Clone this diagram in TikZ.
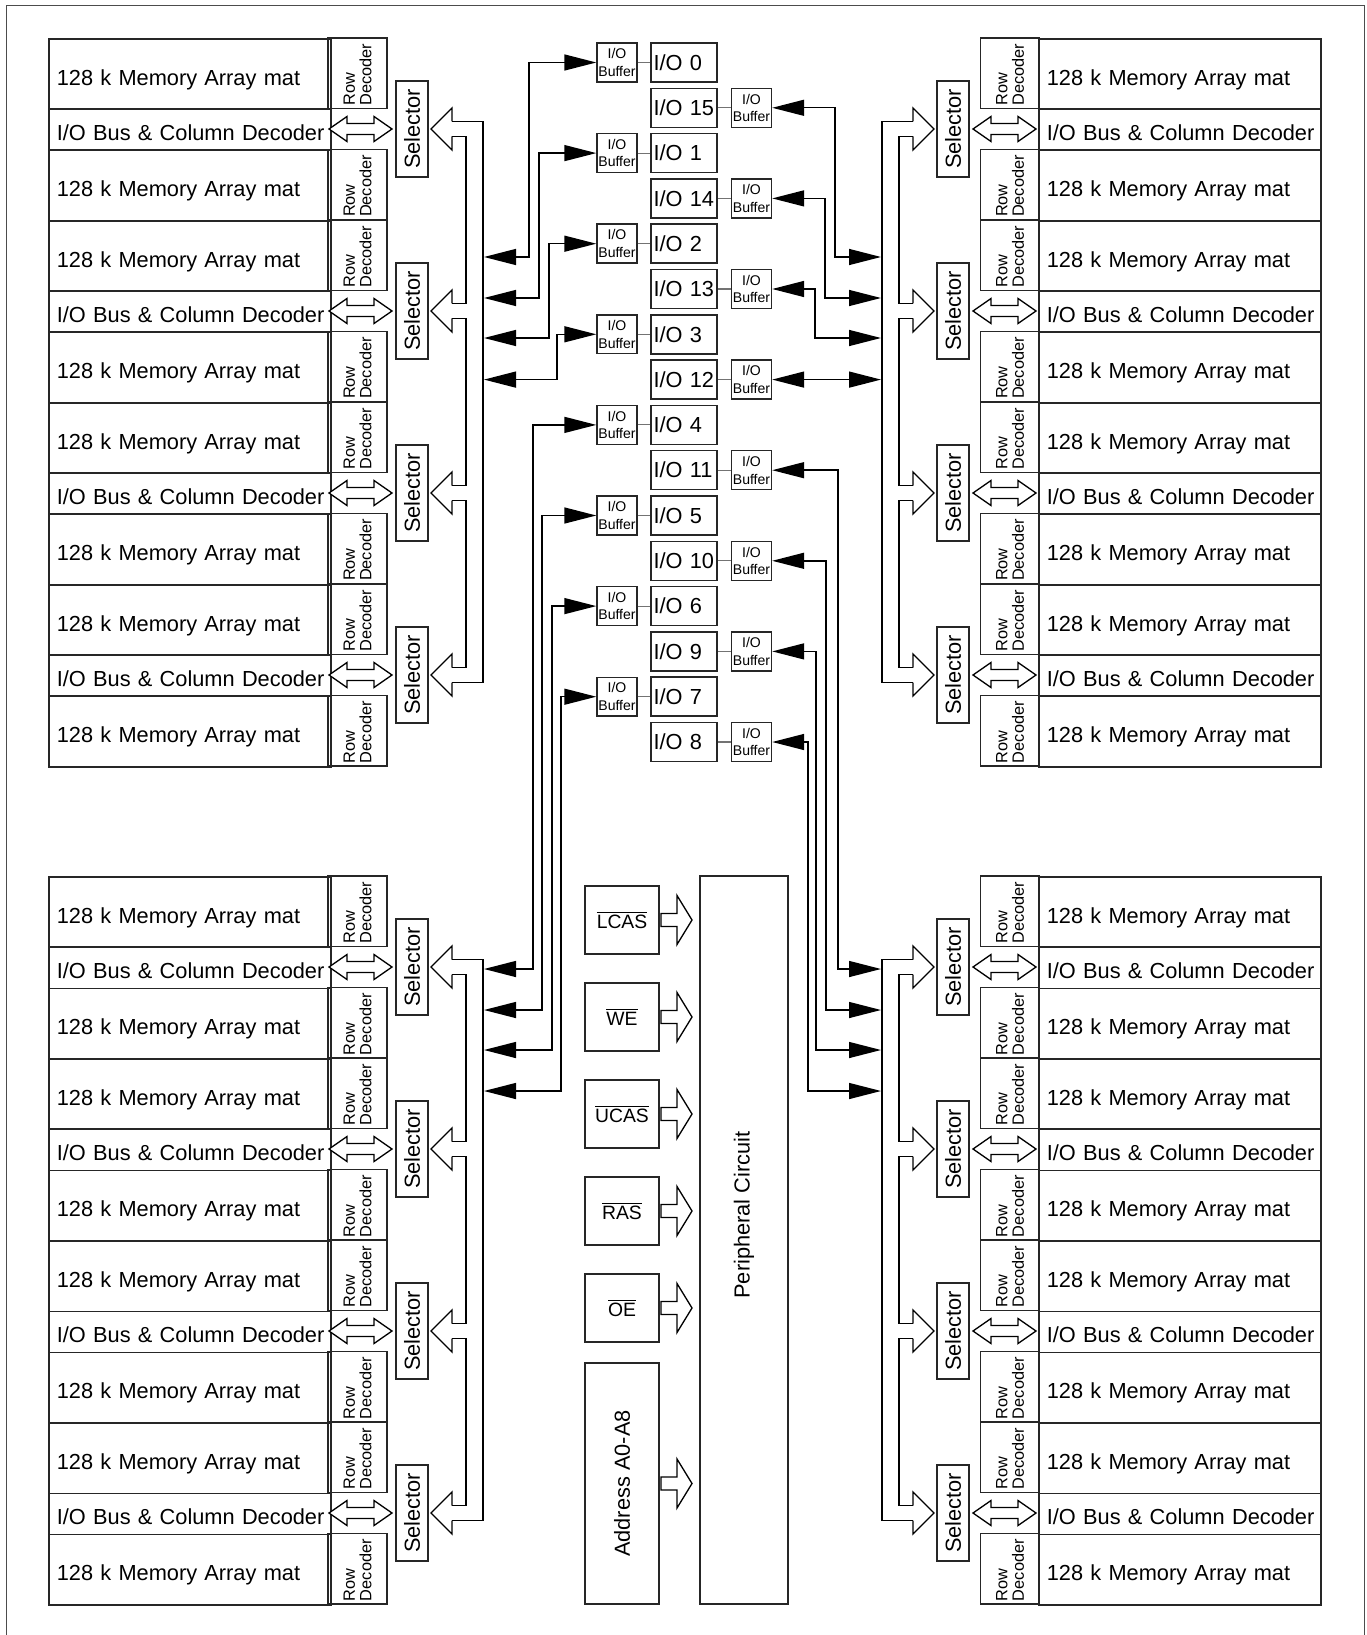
\documentclass[tikz,border=0pt]{standalone}
\usepackage{fontspec}
\setmainfont{Liberation Sans}
\usetikzlibrary{arrows.meta}

\begin{document}
\begin{tikzpicture}[
    x=0.02cm, y=-0.02cm,
    cell/.style    = {rectangle, draw=black!85, line width=0.9pt, inner sep=0pt},
    membox/.style  = {cell, anchor=north west, text width=5.32cm, inner xsep=0.16cm,
                      minimum height=1.41cm, align=left, text height=12.5pt, text depth=0pt,
                      font=\fontsize{12.4}{14}\selectfont},
    busbox/.style  = {membox, minimum height=0.82cm},
    decbox/.style  = {cell, rotate=90, text width=1.29cm, inner xsep=0.06cm,
                      minimum height=1.18cm, align=left,
                      font=\fontsize{9.3}{9.4}\selectfont},
    selbox/.style  = {cell, rotate=90, minimum width=1.92cm, minimum height=0.64cm,
                      font=\fontsize{12.4}{14}\selectfont},
    iobox/.style   = {cell, text width=1.22cm, inner xsep=0.05cm, minimum height=0.78cm,
                      align=left, font=\fontsize{12.4}{14}\selectfont},
    bufbox/.style  = {cell, line width=0.8pt, minimum width=0.8cm, minimum height=0.78cm,
                      align=center, font=\fontsize{8}{10}\selectfont},
    sigbox/.style  = {cell, minimum width=1.48cm, minimum height=1.36cm,
                      font=\fontsize{11}{13}\selectfont},
    dualtip/.style = {>={Triangle[length=0.64cm, width=0.32cm]}, <->, line width=0.8pt},
    hollow/.style  = {draw=black, line width=0.75pt},
    thinline/.style= {draw=black!55, line width=0.6pt},
    %--- hollow double arrow between bus and selector
    bidir/.pic     = {
      \draw[hollow, fill=white] (-31.5,0) -- (-13.5,-12.5) -- (-13.5,-5.5) -- (13.5,-5.5)
        -- (13.5,-12.5) -- (31.5,0) -- (13.5,12.5) -- (13.5,5.5) -- (-13.5,5.5)
        -- (-13.5,12.5) -- cycle;
    },
    %--- hollow arrow into the peripheral circuit
    inarrow/.pic   = {
      \draw[hollow, fill=white] (0,-6.5) -- (16,-6.5) -- (16,-24.5) -- (31,0)
        -- (16,24.5) -- (16,6.5) -- (0,6.5) -- cycle;
    },
  ]
  \useasboundingbox (0,0) rectangle (1366,1635);
  \draw[draw=black!70, line width=0.5pt] (6,1640) -- (6,5) -- (1364,5) -- (1364,1640);

  %-------------------------------------------------- memory quadrants
  \foreach \q/\oy in {t/38, b/876} {
    \foreach \j in {0,...,3} {
      \pgfmathsetmacro\ya{\oy+182*\j}
      \pgfmathsetmacro\yc{\ya+91}
      % left half
      \node[membox] (\q Lma\j)  at (48,\ya)       {128 k Memory Array mat};
      \node[busbox] (\q Lbus\j) at (48,\ya+70.5)  {\mbox{I/O Bus \& Column Decoder}};
      \node[membox] (\q Lmb\j)  at (48,\ya+111.5) {128 k Memory Array mat};
      \node[decbox] (\q Lda\j)  at (357.5,\ya+35.25)  {Row\\Decoder};
      \node[decbox] (\q Ldb\j)  at (357.5,\ya+146.75) {Row\\Decoder};
      \node[selbox] (\q Lsel\j) at (412,\yc) {Selector};
      \pic at (360.5,\yc) {bidir};
      \draw[hollow] (452,\yc-7.5) -- (452,\yc-21) -- (431,\yc) -- (452,\yc+21) -- (452,\yc+7.5);
      % right half
      \node[membox] (\q Rma\j)  at (1038,\ya)       {128 k Memory Array mat};
      \node[busbox] (\q Rbus\j) at (1038,\ya+70.5)  {\mbox{I/O Bus \& Column Decoder}};
      \node[membox] (\q Rmb\j)  at (1038,\ya+111.5) {128 k Memory Array mat};
      \node[decbox] (\q Rda\j)  at (1010,\ya+35.25)  {Row\\Decoder};
      \node[decbox] (\q Rdb\j)  at (1010,\ya+146.75) {Row\\Decoder};
      \node[selbox] (\q Rsel\j) at (953,\yc) {Selector};
      \pic at (1004.5,\yc) {bidir};
      \draw[hollow] (913,\yc-7.5) -- (913,\yc-21) -- (934,\yc) -- (913,\yc+21) -- (913,\yc+7.5);
    }
    % wide internal buses
    \draw[hollow] (452,\oy+83.5) -- (483,\oy+83.5) -- (483,\oy+644.5) -- (452,\oy+644.5);
    \draw[hollow] (913,\oy+83.5) -- (882,\oy+83.5) -- (882,\oy+644.5) -- (913,\oy+644.5);
    \foreach \j in {0,1,2} {
      \draw[hollow] (452,\oy+182*\j+98.5) -- (466,\oy+182*\j+98.5)
        -- (466,\oy+182*\j+265.5) -- (452,\oy+182*\j+265.5);
      \draw[hollow] (913,\oy+182*\j+98.5) -- (899,\oy+182*\j+98.5)
        -- (899,\oy+182*\j+265.5) -- (913,\oy+182*\j+265.5);
    }
  }

  %-------------------------------------------------- I/O pins and buffers
  \foreach \lbl [count=\k from 0] in {0,15,1,14,2,13,3,12,4,11,5,10,6,9,7,8} {
    \pgfmathsetmacro\yr{62.5+45.3*\k}
    \node[iobox] (io\lbl) at (684,\yr) {I/O \lbl};
    \ifodd\k\relax
      \node[bufbox] (buf\lbl) at (751.5,\yr) {I/O\\Buffer};
      \draw[thinline] (io\lbl.east) -- (buf\lbl.west);
    \else
      \node[bufbox] (buf\lbl) at (617,\yr) {I/O\\Buffer};
      \draw[thinline] (buf\lbl.east) -- (io\lbl.west);
    \fi
  }

  %-------------------------------------------------- buffers -> buses
  \foreach \lbl/\xv/\yb in {0/529/257, 1/539/298, 2/549/338, 3/557/379.6} {
    \coordinate (tLin\lbl) at (484,\yb);
    \draw[dualtip] (buf\lbl.west) -| (\xv,\yb) -- (tLin\lbl);
  }
  \foreach \lbl/\xv/\yb in {15/835/257, 14/825/298, 13/815/338, 12/830/379.6} {
    \coordinate (tRin\lbl) at (881,\yb);
    \draw[dualtip] (buf\lbl.east) -| (\xv,\yb) -- (tRin\lbl);
  }
  \foreach \lbl/\xv/\yb in {4/533/969, 5/542/1010, 6/552/1050, 7/561/1091} {
    \coordinate (bLin\lbl) at (484,\yb);
    \draw[dualtip] (buf\lbl.west) -| (\xv,\yb) -- (bLin\lbl);
  }
  \foreach \lbl/\xv/\yb in {11/838/969, 10/826/1010, 9/816/1050, 8/808/1091} {
    \coordinate (bRin\lbl) at (881,\yb);
    \draw[dualtip] (buf\lbl.east) -| (\xv,\yb) -- (bRin\lbl);
  }

  %-------------------------------------------------- control inputs
  \foreach \s/\txt [count=\k from 0] in {lcas/LCAS, we/WE, ucas/UCAS, ras/RAS, oe/OE} {
    \node[sigbox] (\s) at (622,920+97*\k) {$\overline{\hbox{\txt}}$};
    \pic at (661,920+97*\k) {inarrow};
  }
  \node[cell, rotate=90, minimum width=4.82cm, minimum height=1.48cm,
        font=\fontsize{12.4}{14}\selectfont] (addr) at (622,1483.5) {Address A0-A8};
  \pic at (661,1483.5) {inarrow};

  \node[cell, minimum width=1.76cm, minimum height=14.56cm] (perif) at (744,1240) {};
  \node[rotate=90, font=\fontsize{12.4}{14}\selectfont] (perifl) at (744,1215)
    {Peripheral Circuit};
\end{tikzpicture}
\end{document}
